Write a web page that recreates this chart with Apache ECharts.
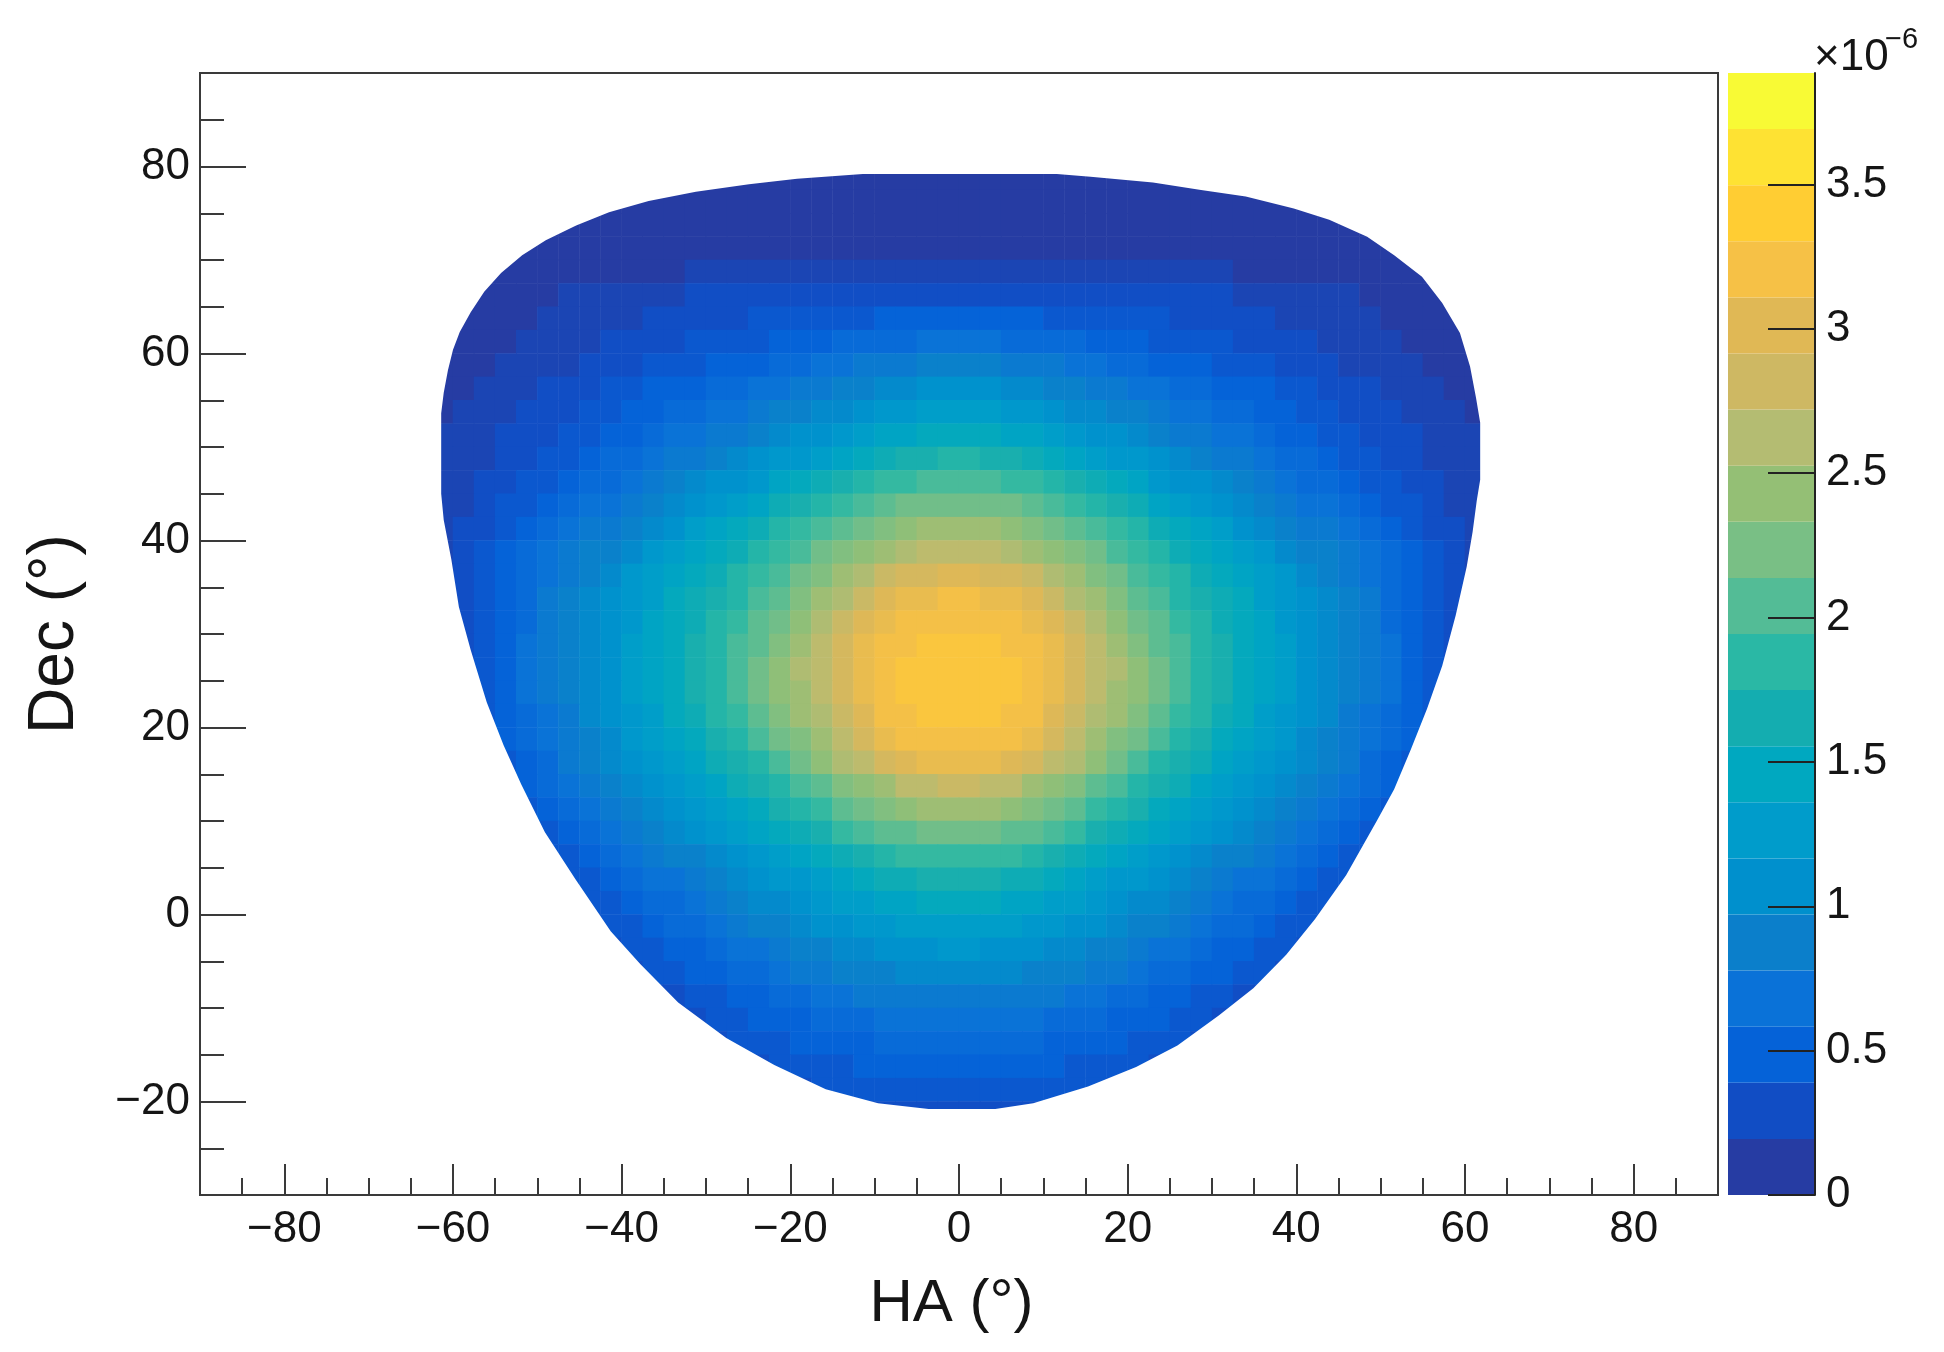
<!DOCTYPE html>
<html>
<head>
<meta charset="utf-8">
<title>HA Dec map</title>
<script src="https://cdn.jsdelivr.net/npm/echarts@6/dist/echarts.min.js"></script>
<style>
  html, body { margin: 0; padding: 0; background: #fff; }
  #chart { width: 1944px; height: 1352px; }
</style>
</head>
<body>
<div id="chart"></div>
<script>
// colour scale bands, bottom to top
const paletteColors = ['#263ca3', '#114dc4', '#0562d8', '#0a72d8', '#0b7fcb', '#0090cd', '#009ccb', '#00a8c0', '#14adb0', '#2ab8a5',
  '#53bc96', '#79bf85', '#94bf75', '#b4bc72', '#ceb863', '#e0b855', '#f6c146', '#ffcd33', '#fee233', '#f8fa35'];
const bandStep = 0.1943;
const scaleTicks = [0, 0.5, 1, 1.5, 2, 2.5, 3, 3.5];

const majorTicks = { x: [-80, -60, -40, -20, 0, 20, 40, 60, 80], y: [-20, 0, 20, 40, 60, 80] };
const minorTicksX = [-85, -75, -70, -65, -55, -50, -45, -35, -30, -25, -15, -10, -5, 5, 10, 15, 25, 30, 35, 45, 50, 55, 65, 70, 75, 85];
const minorTicksY = [-25, -15, -10, -5, 5, 10, 15, 25, 30, 35, 45, 50, 55, 65, 70, 75, 85];

// cell centres of the table below (degrees)
const haCols = [-61.25, -58.75, -56.25, -53.75, -51.25, -48.75, -46.25, -43.75, -41.25, -38.75, -36.25, -33.75, -31.25, -28.75, -26.25, -23.75, -21.25, -18.75, -16.25, -13.75, -11.25, -8.75, -6.25, -3.75, -1.25,
  1.25, 3.75, 6.25, 8.75, 11.25, 13.75, 16.25, 18.75, 21.25, 23.75, 26.25, 28.75, 31.25, 33.75, 36.25, 38.75, 41.25, 43.75, 46.25, 48.75, 51.25, 53.75, 56.25, 58.75, 61.25];
const decRows = [78.75, 76.25, 73.75, 71.25, 68.75, 66.25, 63.75, 61.25, 58.75, 56.25, 53.75, 51.25, 48.75, 46.25, 43.75, 41.25, 38.75, 36.25, 33.75, 31.25, 28.75, 26.25, 23.75, 21.25, 18.75, 16.25, 13.75, 11.25, 8.75, 6.25, 3.75, 1.25, -1.25, -3.75, -6.25, -8.75, -11.25, -13.75, -16.25, -18.75, -21.25];

// units of 1e-7, one line per decRows entry
const cellValues = [
  [1,1,1,1,1,1,1,1,1,1,1,1,1,1,1,1,1,1,1,1,1,1,1,1,1,1,1,1,1,1,1,1,1,1,1,1,1,1,1,1,1,1,1,1,1,1,1,1,1,1],
  [1,1,1,1,1,1,1,1,1,1,1,1,1,1,1,1,1,1,1,1,1,1,1,1,1,1,1,1,1,1,1,1,1,1,1,1,1,1,1,1,1,1,1,1,1,1,1,1,1,1],
  [1,1,1,1,1,1,1,1,1,1,1,1,1,1,1,1,1,1,1,1,1,1,1,1,1,1,1,1,1,1,1,1,1,1,1,1,1,1,1,1,1,1,1,1,1,1,1,1,1,1],
  [1,1,1,1,1,1,1,1,1,1,1,1,1,1,1,1,1,1,1,1,1,1,1,1,1,1,1,1,1,1,1,1,1,1,1,1,1,1,1,1,1,1,1,1,1,1,1,1,1,1],
  [1,1,1,1,1,1,1,1,1,1,1,1,2,2,2,2,2,2,2,2,2,2,2,2,2,2,2,2,2,2,2,2,2,2,2,2,2,2,1,1,1,1,1,1,1,1,1,1,1,1],
  [1,1,1,1,1,1,2,2,2,2,2,2,3,3,3,3,3,3,3,3,3,3,3,3,3,3,3,3,3,3,3,3,3,3,3,3,3,3,2,2,2,2,2,2,1,1,1,1,1,1],
  [1,1,1,1,1,2,2,2,2,2,3,3,3,3,3,4,4,4,4,4,4,5,5,5,5,5,5,5,5,4,4,4,4,4,4,3,3,3,3,3,2,2,2,2,2,1,1,1,1,1],
  [1,1,1,1,2,2,2,2,3,3,3,3,4,4,4,4,5,5,5,6,6,6,6,7,7,7,7,6,6,6,6,5,5,5,4,4,4,4,3,3,3,3,2,2,2,2,1,1,1,1],
  [1,1,1,2,2,2,2,3,3,3,4,4,4,5,5,5,6,6,7,7,8,8,8,9,9,9,9,8,8,8,7,7,6,6,5,5,5,4,4,4,3,3,3,2,2,2,2,1,1,1],
  [1,1,2,2,2,3,3,3,4,4,5,5,5,6,6,7,7,8,8,9,9,10,10,11,11,11,11,10,10,9,9,8,8,7,7,6,6,5,5,5,4,4,3,3,3,2,2,2,1,1],
  [1,2,2,2,3,3,3,4,4,5,5,6,6,7,7,8,9,9,10,10,11,12,12,13,13,13,13,12,12,11,10,10,9,9,8,7,7,6,6,5,5,4,4,3,3,3,2,2,2,1],
  [2,2,2,3,3,3,4,4,5,5,6,7,7,8,8,9,10,11,11,12,13,14,14,15,15,15,15,14,14,13,12,11,11,10,9,8,8,7,7,6,5,5,4,4,3,3,3,2,2,2],
  [2,2,2,3,3,4,4,5,6,6,7,8,8,9,10,11,12,12,13,14,15,16,17,17,18,18,17,17,16,15,14,13,12,12,11,10,9,8,8,7,6,6,5,4,4,3,3,2,2,2],
  [2,2,3,3,4,4,5,6,6,7,8,9,10,11,11,12,14,15,16,17,18,19,19,20,20,20,20,19,19,18,17,16,15,14,12,11,11,10,9,8,7,6,6,5,4,4,3,3,2,2],
  [2,2,3,4,4,5,6,7,7,8,9,10,11,12,13,14,16,17,18,19,20,21,22,22,22,22,22,22,21,20,19,18,17,16,14,13,12,11,10,9,8,7,7,6,5,4,4,3,2,2],
  [2,3,3,4,5,6,7,8,8,9,10,11,13,14,15,16,18,19,20,21,22,23,24,25,25,25,25,24,23,22,21,20,19,18,16,15,14,13,11,10,9,8,8,7,6,5,4,3,3,2],
  [2,3,4,5,6,7,8,9,9,10,12,13,14,15,16,18,19,20,22,23,24,25,26,27,27,27,27,26,25,24,23,22,20,19,18,16,15,14,13,12,10,9,9,8,7,6,5,4,3,2],
  [2,3,4,5,6,7,8,9,10,12,13,14,15,16,18,19,20,22,23,25,26,28,29,29,30,30,29,29,28,26,25,23,22,20,19,18,16,15,14,13,12,10,9,8,7,6,5,4,3,2],
  [2,3,4,5,6,8,9,10,11,12,13,15,16,17,18,20,21,23,25,26,28,30,31,31,32,32,31,31,30,28,26,25,23,21,20,18,17,16,15,13,12,11,10,9,8,6,5,4,3,2],
  [2,3,4,5,6,8,9,10,11,12,14,15,16,18,19,21,22,24,26,28,30,31,32,32,32,32,32,32,31,30,28,26,24,22,21,19,18,16,15,14,12,11,10,9,8,6,5,4,3,2],
  [2,3,4,5,7,8,9,10,11,13,14,15,17,18,20,21,23,25,27,29,31,32,32,33,33,33,33,32,32,31,29,27,25,23,21,20,18,17,15,14,13,11,10,9,8,7,5,4,3,2],
  [2,3,4,5,7,8,9,10,11,13,14,15,17,18,20,22,24,26,27,29,31,32,33,33,33,33,33,33,32,31,29,27,26,24,22,20,18,17,15,14,13,11,10,9,8,7,5,4,3,2],
  [2,3,4,5,7,8,9,10,11,13,14,15,17,18,20,22,24,25,27,29,31,32,33,33,33,33,33,33,32,31,29,27,25,24,22,20,18,17,15,14,13,11,10,9,8,7,5,4,3,2],
  [2,3,4,5,6,7,8,10,11,12,13,15,16,18,19,21,23,25,26,28,30,32,32,33,33,33,33,32,32,30,28,26,25,23,21,19,18,16,15,13,12,11,10,8,7,6,5,4,3,2],
  [2,3,4,5,6,7,8,9,10,12,13,14,15,17,18,20,22,23,25,27,29,31,32,32,32,32,32,32,31,29,27,25,23,22,20,18,17,15,14,13,12,10,9,8,7,6,5,4,3,2],
  [2,3,3,4,5,6,8,9,10,11,12,13,14,16,17,18,20,22,24,26,27,29,30,31,31,31,31,30,29,27,26,24,22,20,18,17,16,14,13,12,11,10,9,8,6,5,4,3,3,2],
  [2,2,3,4,5,6,7,8,9,10,11,12,13,14,16,17,18,20,21,23,24,25,27,27,28,28,27,27,25,24,23,21,20,18,17,16,14,13,12,11,10,9,8,7,6,5,4,3,2,2],
  [2,2,3,3,4,5,6,7,8,9,10,11,12,13,14,15,17,18,19,21,22,23,24,25,25,25,25,24,23,22,21,19,18,17,15,14,13,12,11,10,9,8,7,6,5,4,3,3,2,2],
  [2,2,2,3,4,4,5,6,7,8,9,10,11,12,13,14,15,16,17,19,20,21,21,22,22,22,22,21,21,20,19,17,16,15,14,13,12,11,10,9,8,7,6,5,4,4,3,2,2,2],
  [2,2,2,3,3,4,4,5,6,7,8,9,9,10,11,12,13,14,15,16,17,18,19,19,19,19,19,19,18,17,16,15,14,13,12,11,10,9,9,8,7,6,5,4,4,3,3,2,2,2],
  [2,2,2,2,3,3,4,4,5,6,7,7,8,9,10,11,12,12,13,14,15,16,16,17,17,17,17,16,16,15,14,13,12,12,11,10,9,8,7,7,6,5,4,4,3,3,2,2,2,2],
  [2,2,2,2,2,3,3,4,4,5,6,6,7,8,9,10,10,11,12,13,13,14,14,15,15,15,15,14,14,13,13,12,11,10,10,9,8,7,6,6,5,4,4,3,3,2,2,2,2,2],
  [2,2,2,2,2,2,3,3,4,4,5,6,6,7,8,9,9,10,11,11,12,12,13,13,13,13,13,13,12,12,11,11,10,9,9,8,7,6,6,5,4,4,3,3,2,2,2,2,2,2],
  [2,2,2,2,2,2,2,3,3,4,4,5,5,6,7,7,8,9,9,10,10,11,11,11,12,12,11,11,11,10,10,9,9,8,7,7,6,5,5,4,4,3,3,2,2,2,2,2,2,2],
  [2,2,2,2,2,2,2,2,3,3,4,4,5,5,6,6,7,8,8,9,9,9,10,10,10,10,10,10,9,9,9,8,8,7,6,6,5,5,4,4,3,3,2,2,2,2,2,2,2,2],
  [2,2,2,2,2,2,2,2,2,3,3,3,4,4,5,5,6,6,7,7,8,8,8,8,8,8,8,8,8,8,7,7,6,6,5,5,4,4,3,3,3,2,2,2,2,2,2,2,2,2],
  [2,2,2,2,2,2,2,2,2,2,3,3,3,4,4,5,5,5,6,6,6,7,7,7,7,7,7,7,7,6,6,6,5,5,5,4,4,3,3,3,2,2,2,2,2,2,2,2,2,2],
  [2,2,2,2,2,2,2,2,2,2,2,3,3,3,4,4,4,5,5,5,5,6,6,6,6,6,6,6,6,5,5,5,5,4,4,4,3,3,3,2,2,2,2,2,2,2,2,2,2,2],
  [2,2,2,2,2,2,2,2,2,2,2,2,3,3,3,3,4,4,4,4,5,5,5,5,5,5,5,5,5,5,4,4,4,4,3,3,3,3,2,2,2,2,2,2,2,2,2,2,2,2],
  [2,2,2,2,2,2,2,2,2,2,2,2,2,2,3,3,3,3,4,4,4,4,4,4,4,4,4,4,4,4,4,4,3,3,3,3,2,2,2,2,2,2,2,2,2,2,2,2,2,2],
  [3,3,3,3,3,3,3,3,3,3,3,3,3,3,3,3,3,3,3,3,3,3,3,3,3,3,3,3,3,3,3,3,3,3,3,3,3,3,3,3,3,3,3,3,3,3,3,3,3,3]
];

// edge of the exposure region, going from the top round the left side
const edgeHA = [-11.4, -19.2, -24.9, -31.2, -36.8, -41.5, -45.4, -49, -51.8, -54.3, -56.3, -57.9, -59.2, -60, -60.6, -61.1, -61.4, -61.4, -61.1, -60.2, -59.3, -57.9, -56, -54, -51.9, -49.1, -45.5, -41.3, -37.8, -33.3, -27.6, -21.9, -15.8, -9.6, -3.6,
  4.3, 8.8, 15.3, 21, 25.9, 30.8, 34.9, 38.8, 42.2, 45.9, 49.6, 51.6, 53.6, 55.5, 57.3, 58.9, 60.2, 60.9, 61.4, 61.8, 61.8, 61.3, 60.6, 59.4, 57.3, 54.9, 51.6, 48.4, 43.9, 39.7, 34, 28.7, 23, 15.6, 11.6, -11.4];
const edgeDec = [79.2, 78.7, 78.1, 77.3, 76.3, 75.1, 73.7, 72.1, 70.5, 68.6, 66.6, 64.4, 62.3, 60.4, 58.2, 55.8, 53.6, 45, 42.2, 38, 32.9, 28.3, 22.7, 18.1, 13.9, 8.8, 3.8, -1.8, -5.3, -9.4, -13.2, -16.1, -18.7, -20.2, -20.8,
  -20.8, -20.2, -18.4, -16.3, -14, -10.8, -7.9, -4.3, -0.5, 4.2, 10.1, 13.4, 17.7, 22, 26.6, 32, 37.2, 40.9, 44.3, 46.5, 52.6, 55.3, 58.6, 62.2, 65.4, 68.2, 70.5, 72.5, 74.3, 75.5, 76.8, 77.5, 78.3, 78.9, 79.2, 79.2];

// heatmap needs category axes, one band per 2.5 degrees over the full frame
const haBins = [];
for (let v = -88.75; v < 90; v += 2.5) haBins.push(v);
const decBins = [];
for (let v = -28.75; v < 90; v += 2.5) decBins.push(v);

const cells = [];
cellValues.forEach((row, r) => {
  row.forEach((v, c) => {
    cells.push([haBins.indexOf(haCols[c]), decBins.indexOf(decRows[r]), v]);
  });
});

const FONT = '"Liberation Sans", Arial, sans-serif';
const INK = '#3a3a3a';
const signed = v => String(v).replace('-', '\u2212');
const labelStyle = { fontFamily: FONT, fontSize: 44, color: '#151515' };

// white cover outside the edge, the cells under it are not part of the region
function renderEdgeMask(params, api) {
  const outer = [[-64, 81], [64, 81], [64, -24], [-64, -24], [-64, 81]];
  const inner = edgeHA.map((ha, i) => [ha, edgeDec[i]]);
  const points = outer.concat(inner).map(p => api.coord(p));
  return { type: 'polygon', shape: { points: points }, style: { fill: '#ffffff' } };
}

const scaleSeries = paletteColors.map(color => ({
  type: 'bar',
  xAxisIndex: 3,
  yAxisIndex: 3,
  stack: 'scale',
  barWidth: '100%',
  silent: true,
  itemStyle: { color: color },
  data: [bandStep]
}));

const hiddenCategory = (data, gridIndex) => ({ type: 'category', gridIndex: gridIndex, data: data, show: false });

const option = {
  animation: false,
  backgroundColor: '#ffffff',
  grid: [
    { left: 200, top: 73, width: 1518, height: 1122, outerBoundsMode: 'none', show: true, borderColor: INK, borderWidth: 2, backgroundColor: '#ffffff' },
    { left: 1728, top: 73, width: 87, height: 1122, outerBoundsMode: 'none' }
  ],
  xAxis: [
    hiddenCategory(haBins, 0),
    {
      type: 'value', gridIndex: 0, position: 'bottom', min: -90, max: 90,
      name: 'HA (°)', nameLocation: 'middle', nameGap: 79,
      nameTextStyle: { fontFamily: FONT, fontSize: 60, color: '#151515', padding: [0, 15, 0, 0] },
      splitLine: { show: false },
      axisLine: { show: true, onZero: false, lineStyle: { color: INK, width: 2 } },
      axisTick: { show: true, inside: true, length: 31, lineStyle: { color: INK, width: 2 }, customValues: majorTicks.x },
      axisLabel: Object.assign({ margin: 13, formatter: signed, customValues: majorTicks.x }, labelStyle)
    },
    {
      type: 'value', gridIndex: 0, position: 'bottom', min: -90, max: 90,
      splitLine: { show: false }, axisLine: { show: false, onZero: false }, axisLabel: { show: false },
      axisTick: { show: true, inside: true, length: 17, lineStyle: { color: INK, width: 2 }, customValues: minorTicksX }
    },
    hiddenCategory(['scale'], 1)
  ],
  yAxis: [
    hiddenCategory(decBins, 0),
    {
      type: 'value', gridIndex: 0, position: 'left', min: -30, max: 90,
      name: 'Dec (°)', nameLocation: 'middle', nameGap: 113, nameRotate: 90,
      nameTextStyle: { fontFamily: FONT, fontSize: 64, color: '#151515' },
      splitLine: { show: false },
      axisLine: { show: true, onZero: false, lineStyle: { color: INK, width: 2 } },
      axisTick: { show: true, inside: true, length: 46, lineStyle: { color: INK, width: 2 }, customValues: majorTicks.y },
      axisLabel: Object.assign({ margin: 10, padding: [2, 0, 0, 0], formatter: signed, customValues: majorTicks.y }, labelStyle)
    },
    {
      type: 'value', gridIndex: 0, position: 'left', min: -30, max: 90,
      splitLine: { show: false }, axisLine: { show: false, onZero: false }, axisLabel: { show: false },
      axisTick: { show: true, inside: true, length: 24, lineStyle: { color: INK, width: 2 }, customValues: minorTicksY }
    },
    {
      type: 'value', gridIndex: 1, position: 'right', min: 0, max: bandStep * paletteColors.length, z: 10,
      splitLine: { show: false },
      axisLine: { show: true, onZero: false, lineStyle: { color: '#222', width: 2 } },
      axisTick: { show: true, inside: true, length: 47, lineStyle: { color: '#222', width: 2 }, customValues: scaleTicks },
      axisLabel: Object.assign({ margin: 11, padding: [8, 0, 0, 0], customValues: scaleTicks }, labelStyle)
    }
  ],
  visualMap: {
    show: false,
    type: 'continuous',
    seriesIndex: 0,
    dimension: 2,
    min: 1,
    max: 38,
    inRange: { color: paletteColors }
  },
  graphic: [
    { type: 'text', left: 1814, top: 36, style: { text: '×10', font: '44px ' + FONT, fill: '#151515' } },
    { type: 'text', left: 1885, top: 25, style: { text: '\u22126', font: '29px ' + FONT, fill: '#151515' } }
  ],
  series: [
    { type: 'heatmap', xAxisIndex: 0, yAxisIndex: 0, silent: true, data: cells, z: 1 },
    { type: 'custom', xAxisIndex: 1, yAxisIndex: 1, silent: true, z: 2, clip: false, renderItem: renderEdgeMask, data: [[0, 0]] }
  ].concat(scaleSeries)
};

const chart = echarts.init(document.getElementById('chart'));
chart.setOption(option);
</script>
</body>
</html>
